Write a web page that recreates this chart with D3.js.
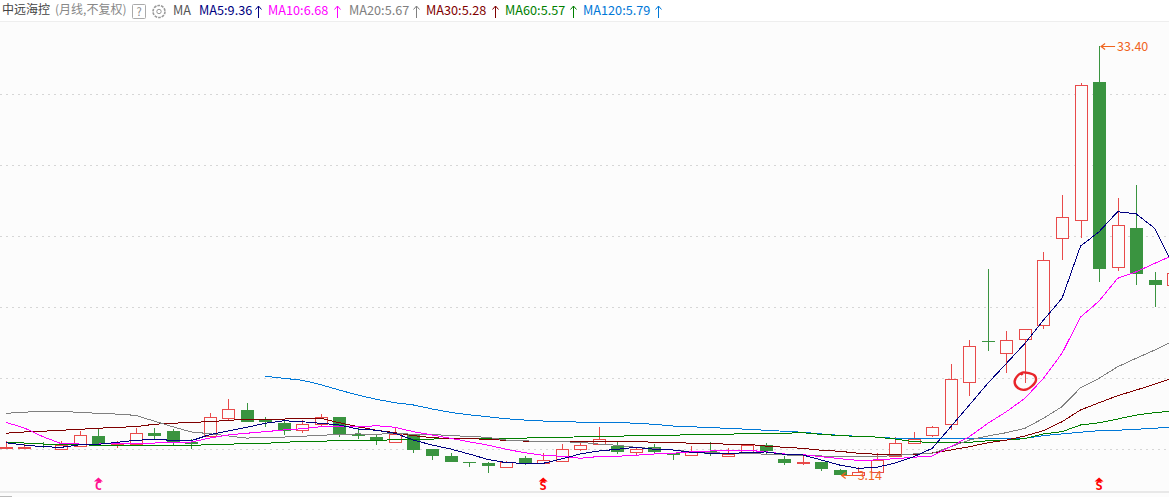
<!DOCTYPE html>
<html>
<head>
<meta charset="utf-8">
<script src="https://cdn.jsdelivr.net/npm/d3@7"></script>
<style>
  html, body { margin: 0; padding: 0; background: #fcfcfc; overflow: hidden; }
  svg { display: block; font-family: "Noto Sans CJK SC", "Noto Sans", sans-serif; }
  .grid .domain { display: none; }
  .grid line { stroke: #d6d6d6; stroke-dasharray: 2 4; }
  .ma { fill: none; stroke-width: 1; shape-rendering: crispEdges; }
</style>
</head>
<body>
<svg width="1169" height="497"></svg>
<script>
// Precios mensuales
const open = [5.04,5.07,5.19,5.02,5.16,5.92,5.28,5.35,6.13,6.27,5.49,5.92,7.16,7.75,7.04,6.83,6.29,6.74,7.25,6.06,5.85,5.51,6.06,5.00,4.51,4.08,4.01,3.75,4.37,3.99,4.18,5.02,5.35,5.21,4.77,5.12,4.72,4.60,4.84,4.53,4.70,5.26,4.30,4.02,4.08,3.52,3.20,3.43,4.51,5.40,5.96,6.74,9.70,12.60,11.74,12.80,13.71,19.91,21.10,30.84,17.80,20.56,16.90,16.53];
const high = [5.54,5.35,5.49,5.56,6.27,6.41,5.56,6.48,6.48,6.41,5.70,7.54,8.52,8.24,7.25,7.11,7.04,7.46,7.25,6.55,5.99,6.55,6.06,5.00,4.72,4.08,4.08,4.15,4.51,4.72,5.35,5.42,6.55,5.51,5.14,5.35,4.72,5.21,5.49,5.07,5.28,5.42,4.53,4.51,4.08,3.59,3.71,4.72,5.85,6.18,6.62,10.96,12.68,17.68,13.31,13.47,18.87,22.89,30.75,33.40,22.65,23.59,17.44,17.37];
const low = [5.04,5.04,5.10,5.02,5.14,5.35,5.07,5.35,5.70,5.28,5.00,5.92,7.04,6.87,6.55,5.99,6.13,6.55,5.85,5.70,5.28,5.51,4.70,4.23,4.08,3.73,3.31,3.75,3.87,3.99,4.18,4.86,5.35,4.65,4.58,4.65,4.23,4.60,4.51,4.53,4.70,4.65,3.87,3.87,3.45,3.14,3.16,3.43,4.51,5.40,5.87,6.34,8.75,11.92,10.37,9.63,13.47,18.33,19.88,16.78,17.56,16.55,15.02,16.53];
const close = [5.12,5.12,5.12,5.28,5.96,5.35,5.35,6.11,5.92,5.49,5.35,7.23,7.80,6.90,6.90,6.29,6.74,7.23,6.06,5.92,5.58,6.06,4.93,4.51,4.08,4.04,3.80,4.08,3.99,4.23,5.00,5.28,5.68,4.81,4.98,4.74,4.60,4.81,4.60,4.65,5.28,4.81,4.01,4.06,3.59,3.17,3.40,4.25,5.40,5.68,6.53,9.91,12.23,12.51,12.65,13.47,18.29,21.36,30.61,17.70,20.75,17.34,16.57,17.37];

// Medias moviles
const ma5 = [5.44,5.28,5.16,5.12,5.30,5.33,5.47,5.61,5.68,5.61,5.58,6.01,6.27,6.53,6.81,6.99,6.92,6.81,6.69,6.41,6.32,6.11,5.63,5.28,5.00,4.65,4.27,4.04,3.99,3.99,4.30,4.65,4.86,4.98,5.12,4.98,4.93,4.77,4.70,4.65,4.77,4.79,4.63,4.58,4.23,3.87,3.64,3.71,4.01,4.46,5.05,6.57,8.10,9.63,11.03,12.44,14.08,15.61,19.29,20.30,21.71,21.56,20.54,17.95];
const ma10 = [6.88,6.48,5.87,5.37,5.35,5.35,5.37,5.40,5.42,5.47,5.49,5.77,5.99,6.11,6.22,6.34,6.43,6.57,6.57,6.55,6.64,6.53,6.22,5.99,5.75,5.51,5.28,4.98,4.74,4.56,4.49,4.35,4.47,4.49,4.56,4.65,4.70,4.81,4.86,4.91,4.91,4.81,4.65,4.60,4.46,4.32,4.20,4.23,4.32,4.42,4.51,5.16,5.87,6.81,7.63,8.57,9.98,11.74,14.29,15.42,17.02,17.48,18.07,18.66];
const ma20 = [7.51,7.60,7.63,7.65,7.58,7.51,7.46,7.37,6.97,6.57,6.20,6.08,5.92,5.77,5.80,5.84,5.90,5.96,6.03,6.06,6.03,6.11,6.03,6.03,5.94,5.89,5.82,5.63,5.58,5.51,5.51,5.47,5.35,5.26,5.12,5.02,4.93,4.81,4.74,4.70,4.70,4.63,4.58,4.56,4.51,4.46,4.46,4.46,4.54,4.65,4.70,5.16,5.63,5.92,6.15,6.46,7.16,7.98,9.32,9.98,10.79,11.39,11.97,12.60];
const ma30 = [6.11,6.20,6.25,6.32,6.39,6.46,6.53,6.57,6.74,6.81,6.88,6.92,7.02,7.09,7.11,7.11,7.16,7.16,6.85,6.57,6.32,6.15,5.94,5.80,5.73,5.73,5.68,5.61,5.56,5.56,5.56,5.56,5.56,5.54,5.54,5.47,5.47,5.40,5.40,5.33,5.33,5.21,5.12,5.05,4.91,4.84,4.70,4.63,4.61,4.63,4.72,4.93,5.16,5.44,5.63,5.92,6.29,6.92,7.75,8.26,8.75,9.15,9.56,10.00];
const ma60 = [5.49,5.42,5.35,5.30,5.30,5.26,5.26,5.26,5.26,5.26,5.26,5.30,5.33,5.40,5.40,5.47,5.54,5.54,5.61,5.61,5.61,5.65,5.70,5.70,5.73,5.75,5.77,5.77,5.77,5.80,5.80,5.87,5.89,5.89,5.96,5.96,5.96,6.03,6.03,6.03,6.11,6.11,6.11,6.15,6.03,5.95,5.88,5.84,5.70,5.51,5.47,5.47,5.47,5.58,5.63,5.73,6.06,6.22,6.69,6.85,7.11,7.39,7.56,7.68];
const ma120 = [null,null,null,null,null,null,null,null,null,null,null,null,null,null,10.12,9.98,9.84,9.53,9.15,8.80,8.50,8.26,8.10,7.82,7.58,7.41,7.27,7.13,7.04,6.97,6.97,6.88,6.88,6.88,6.81,6.74,6.62,6.57,6.50,6.46,6.39,6.32,6.25,6.18,6.06,5.96,5.89,5.84,5.75,5.75,5.75,5.75,5.75,5.75,5.75,5.75,5.94,6.06,6.18,6.29,6.32,6.39,6.46,6.55];

const gridTicks = [5, 10, 15, 20, 25, 30];
const maNames = ['MA5:9.36', 'MA10:6.68', 'MA20:5.67', 'MA30:5.28', 'MA60:5.57', 'MA120:5.79'];
const maColors = ['#00007f', '#ff00ff', '#808080', '#7f0000', '#007f00', '#0078d7'];
const maSeries = [ma5, ma10, ma20, ma30, ma60, ma120];
const maTextX = [199, 268, 349, 426, 505, 583];
const maArrowX = [258, 337, 416, 495, 573, 658];
const signalIdx = [5, 29, 59];
const signalText = ['C', 'S', 'S'];
const signalColor = ['#ff1090', '#ff0000', '#ff0000'];

const up = '#e84a4a', down = '#3a9440', bg = '#fcfcfc';
const idx = d3.range(open.length);

const svg = d3.select('svg');
const x = d3.scalePoint().domain(idx).range([5.8, 1173.2]);
const y = d3.scaleLinear().domain([5, 30]).range([449, 94]);
const px = i => Math.round(x(i));

// Fondo y cabecera
svg.append('rect').attr('width', 1169).attr('height', 21).attr('fill', '#fff');
svg.append('rect').attr('y', 21).attr('width', 1169).attr('height', 1).attr('fill', '#eeeeee');
svg.append('rect').attr('y', 491).attr('width', 1169).attr('height', 2).attr('fill', '#e8e8e8');
svg.append('rect').attr('y', 496).attr('width', 12).attr('height', 1).attr('fill', '#bbbbbb');

// Rejilla punteada
svg.append('g')
    .attr('class', 'grid')
    .call(d3.axisRight(y).tickValues(gridTicks).tickSize(1169).tickFormat(''));

// Velas
const candle = svg.append('g')
    .selectAll('g')
    .data(idx)
    .enter().append('g')
    .attr('shape-rendering', 'crispEdges');

candle.append('line')
    .attr('x1', d => px(d) + 0.5)
    .attr('x2', d => px(d) + 0.5)
    .attr('y1', d => y(high[d]))
    .attr('y2', d => y(low[d]))
    .attr('stroke', d => close[d] >= open[d] ? up : down);

candle.append('rect')
    .attr('x', d => close[d] >= open[d] ? px(d) - 5.5 : px(d) - 6)
    .attr('width', d => close[d] >= open[d] ? 12 : 13)
    .attr('y', d => Math.round(y(Math.max(open[d], close[d]))) + (close[d] >= open[d] ? 0.5 : 0))
    .attr('height', d => Math.max(1, Math.round(y(Math.min(open[d], close[d])) - y(Math.max(open[d], close[d])))))
    .attr('fill', d => close[d] >= open[d] ? bg : down)
    .attr('stroke', d => close[d] >= open[d] ? up : 'none');

// Medias moviles, de la mas larga a la mas corta
const line = d3.line()
    .defined(d => d != null)
    .x((d, i) => x(i))
    .y(d => y(d));

svg.append('g')
    .selectAll('path')
    .data(d3.range(5, -1, -1))
    .enter().append('path')
    .attr('class', 'ma')
    .attr('stroke', d => maColors[d])
    .attr('d', d => line(maSeries[d]));

// Marcadores de maximo y minimo
const hiIdx = d3.maxIndex(high), loIdx = d3.minIndex(low);
const orange = '#f0641e';

function priceMark(i, v) {
    const ax = x(i) + 2, ay = Math.round(y(v)) + 0.5;
    const g = svg.append('g').attr('fill', 'none').attr('stroke', orange).attr('stroke-width', 1.2);
    g.append('path').attr('d', `M${ax + 14},${ay}H${ax}M${ax + 4},${ay - 3}L${ax},${ay}L${ax + 4},${ay + 3}`);
    svg.append('text')
        .attr('x', ax + 16)
        .attr('y', ay + 4)
        .attr('font-size', 12.5)
        .attr('fill', orange)
        .text(v.toFixed(2));
}
priceMark(hiIdx, high[hiIdx]);
priceMark(loIdx, low[loIdx]);

// Circulo dibujado a mano
const scribble = [[1022.5, 375], [1021.7, 372.9], [1029, 373.2], [1035, 376], [1035.5, 381.7], [1026.7, 389.3], [1018.3, 388.3], [1014.6, 381.7], [1018.3, 375], [1021.5, 373.2]];
svg.append('path')
    .attr('d', d3.line().curve(d3.curveCatmullRom)(scribble))
    .attr('fill', 'none')
    .attr('stroke', '#e8252a')
    .attr('stroke-width', 2.4);

// Senales en la parte inferior
const signal = svg.append('g')
    .selectAll('g')
    .data(signalIdx)
    .enter().append('g')
    .attr('fill', (d, i) => signalColor[i]);

signal.append('path')
    .attr('d', d => `M${x(d)},477.5L${x(d) + 4.5},481.5H${x(d) - 4.5}Z`);

signal.append('text')
    .attr('x', d => x(d))
    .attr('y', 490)
    .attr('text-anchor', 'middle')
    .attr('font-size', 12)
    .attr('font-weight', 'bold')
    .attr('font-family', 'DejaVu Sans Mono')
    .text((d, i) => signalText[i]);

// Cabecera de texto
const head = svg.append('g').attr('font-size', 12);
head.append('text').attr('x', 2).attr('y', 14).attr('fill', '#444').text('中远海控');
head.append('text').attr('x', 55).attr('y', 14).attr('fill', '#888').text('(月线,不复权)');
head.append('rect').attr('x', 132.5).attr('y', 4.5).attr('width', 13).attr('height', 14).attr('rx', 1)
    .attr('fill', 'none').attr('stroke', '#aaa');
head.append('text').attr('x', 139).attr('y', 16).attr('text-anchor', 'middle').attr('font-size', 11).attr('fill', '#888').text('?');

// Icono de engranaje
head.append('circle').attr('cx', 159).attr('cy', 11.5).attr('r', 6).attr('fill', 'none').attr('stroke', '#999').attr('stroke-width', 1.6).attr('stroke-dasharray', '2.7 1');
head.append('circle').attr('cx', 159).attr('cy', 11.5).attr('r', 2.2).attr('fill', 'none').attr('stroke', '#999');

head.append('text').attr('x', 173).attr('y', 15).attr('font-size', 12.7).attr('fill', '#555').text('MA');

const legend = head.selectAll('g.ma-item')
    .data(maNames)
    .enter().append('g')
    .attr('class', 'ma-item');

legend.append('text')
    .attr('x', (d, i) => maTextX[i])
    .attr('y', 15)
    .attr('font-size', 12.7)
    .attr('fill', (d, i) => maColors[i])
    .text(d => d);

legend.append('path')
    .attr('d', (d, i) => `M${maArrowX[i] + 0.5},18V6M${maArrowX[i] - 2.5},9.5L${maArrowX[i] + 0.5},6L${maArrowX[i] + 3.5},9.5`)
    .attr('fill', 'none')
    .attr('stroke', (d, i) => maColors[i]);
</script>
</body>
</html>
